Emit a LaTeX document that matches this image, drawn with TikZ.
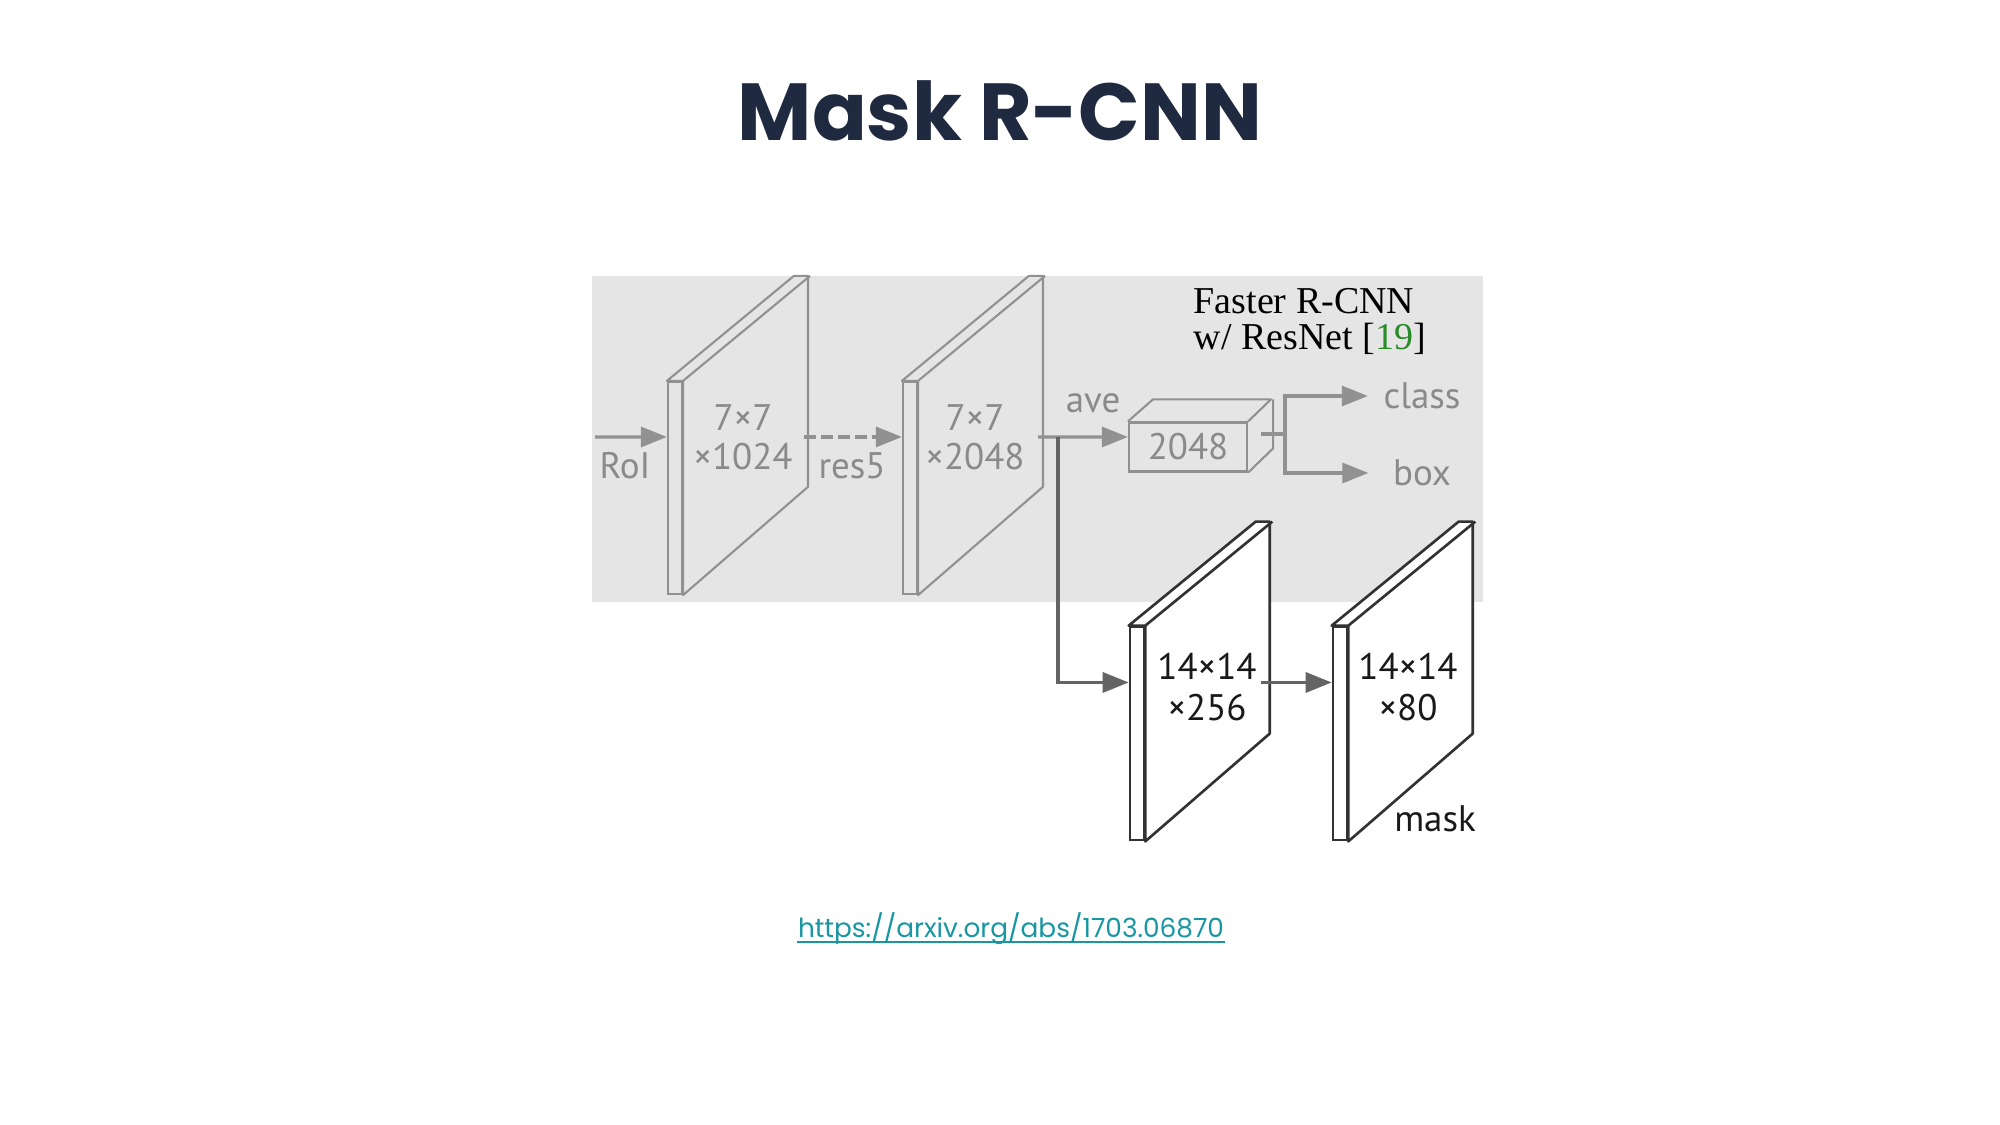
\documentclass[tikz,border=0pt]{standalone}
\usepackage{fontspec}
\setmainfont{PT Sans}
\newfontfamily\titlefont{Poppins}
\newfontfamily\paperfont{Liberation Serif}
\usetikzlibrary{arrows.meta}
\definecolor{bggray}{RGB}{229,229,229}
\definecolor{tgray}{RGB}{138,138,138}
\definecolor{lgray}{RGB}{145,145,145}
\definecolor{dgray}{RGB}{100,100,100}
\definecolor{dline}{RGB}{50,50,50}
\definecolor{navy}{RGB}{31,41,64}
\definecolor{urlteal}{RGB}{24,150,162}
\definecolor{refgreen}{RGB}{40,140,40}
\tikzstyle{gstrip} = [rectangle, draw=lgray, fill=bggray, line width=0.6pt, minimum width=0.14cm, minimum height=2.12cm, inner sep=0]
\tikzstyle{wstrip} = [rectangle, draw=dline, fill=white, line width=0.75pt, minimum width=0.14cm, minimum height=2.13cm, inner sep=0]
\tikzstyle{gface} = [draw=lgray, fill=bggray, line width=0.6pt, line join=round]
\tikzstyle{wface} = [draw=dline, fill=white, line width=0.75pt, line join=round]
\tikzstyle{glabel} = [text=tgray, font=\fontsize{10.5}{11}\selectfont, align=center, inner sep=0]
\tikzstyle{dlabel} = [text=black!90, font=\fontsize{10.5}{11.5}\selectfont, align=center, inner sep=0]
\tikzstyle{garrow} = [draw=lgray, line width=0.9pt, -{Triangle[length=0.26cm, width=0.2cm]}]
\tikzstyle{darrow} = [draw=dgray, line width=0.95pt, -{Triangle[length=0.26cm, width=0.2cm]}]
\begin{document}
\begin{tikzpicture}[x=0.01cm, y=-0.01cm]
\useasboundingbox (0,0) rectangle (2000,1125);
\fill[white] (0,0) rectangle (2000,1125);
\node (title) [text=navy, font=\titlefont\fontsize{23}{28}\selectfont\bfseries] at (1000,111) {Mask R-CNN};

% Faster R-CNN head
\fill[bggray] (592,276) rectangle (1483,602);
\node (paper) [anchor=north west, align=left, inner sep=0, font=\paperfont\fontsize{10.8}{10}\selectfont] at (1193,288) {Faster R-CNN\\w/ ResNet [\textcolor{refgreen}{19}]};

\node (f1) [gstrip] at (675,488) {};
\filldraw [gface] (f1.north west) -- ++(127,-105) -- ++(14,0) -- ++(0,211) -- (f1.south east) -- (f1.north east) -- cycle;
\draw [gface] (f1.north east) -- ++(127,-105);
\node (l1) [glabel] at (743,437) {7×7\\×1024};

\node (f2) [gstrip] at (910,488) {};
\filldraw [gface] (f2.north west) -- ++(127,-105) -- ++(14,0) -- ++(0,211) -- (f2.south east) -- (f2.north east) -- cycle;
\draw [gface] (f2.north east) -- ++(127,-105);
\node (l2) [glabel] at (975,437) {7×7\\×2048};

\node (box) [rectangle, draw=lgray, line width=0.6pt, minimum width=1.18cm, minimum height=0.49cm, inner sep=0, glabel] at (1188,447) {2048};
\draw [gface, fill=none] (box.north west) -- ++(25,-22) -- ++(118,0) -- (box.north east);
\draw [gface, fill=none] (box.north east) ++(25,-22) -- ++(0,49) -- (box.south east);

\coordinate (roi) at (595,437);
\node (roilab) [glabel] at (625,466) {RoI};
\node (res5lab) [glabel] at (852,466) {res5};
\node (avelab) [glabel] at (1093,403) {ave};
\node (cls) [glabel] at (1422,396) {class};
\node (bbox) [glabel] at (1422,473) {box};

\draw [garrow] (roi) -- ([yshift=0.51cm]f1.west);
\draw [garrow, dash pattern=on 3.4pt off 1.4pt] ([xshift=1.21cm,yshift=0.51cm]f1.east) -- ([yshift=0.51cm]f2.west);
\draw [garrow] ([xshift=1.2cm,yshift=0.51cm]f2.east) -- ([yshift=0.1cm]box.west);

\coordinate (split) at (1285,434);
\draw [draw=lgray, line width=0.9pt] (split) -- ++(-24,0);
\draw [garrow] (split) |- ([xshift=-0.15cm]cls.west);
\draw [garrow] (split) |- ([xshift=-0.24cm]bbox.west);

% mask branch
\node (f3) [wstrip] at (1137,733.5) {};
\filldraw [wface] (f3.north west) -- ++(127,-104) -- ++(14,0) -- ++(0,212) -- (f3.south east) -- (f3.north east) -- cycle;
\draw [wface] (f3.north east) -- ++(127,-104);
\node (l3) [dlabel] at (1207,687) {14×14\\×256};

\node (f4) [wstrip] at (1340,733.5) {};
\filldraw [wface] (f4.north west) -- ++(127,-104) -- ++(14,0) -- ++(0,212) -- (f4.south east) -- (f4.north east) -- cycle;
\draw [wface] (f4.north east) -- ++(127,-104);
\node (l4) [dlabel] at (1408,687) {14×14\\×80};
\node (masklab) [dlabel] at (1435,819) {mask};

\coordinate (mbr) at (1058,437);
\draw [darrow] (mbr) |- ([yshift=0.51cm]f3.west);
\draw [darrow] ([xshift=1.16cm,yshift=0.51cm]f3.east) -- ([yshift=0.51cm]f4.west);

\node (link) [anchor=base, inner sep=0, text=urlteal, font=\titlefont\fontsize{7.5}{9}\selectfont] at (1011,937) {https://arxiv.org/abs/1703.06870};
\draw [urlteal, line width=0.6pt] ([yshift=-0.05cm]link.base west) -- ([yshift=-0.05cm]link.base east);
\end{tikzpicture}
\end{document}
